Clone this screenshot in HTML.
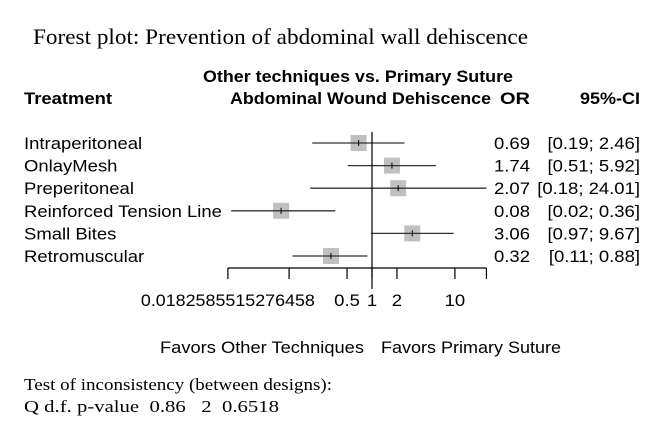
<!DOCTYPE html>
<html><head><meta charset="utf-8"><style>
body{margin:0;background:#fff;width:665px;height:435px;overflow:hidden}
svg text{font-family:"Liberation Sans",sans-serif;fill:#000}
</style></head><body>
<svg width="665" height="435">
<text x="33" y="44" textLength="495" lengthAdjust="spacingAndGlyphs" style="font-family:'Liberation Serif',serif;font-size:22px">Forest plot: Prevention of abdominal wall dehiscence</text>
<text x="203" y="82" textLength="310" lengthAdjust="spacingAndGlyphs" font-weight="bold" font-size="16.5">Other techniques vs. Primary Suture</text>
<text x="24" y="104" textLength="88" lengthAdjust="spacingAndGlyphs" font-weight="bold" font-size="16.5">Treatment</text>
<text x="230" y="104" textLength="261" lengthAdjust="spacingAndGlyphs" font-weight="bold" font-size="16.5">Abdominal Wound Dehiscence</text>
<text x="500" y="104" textLength="30" lengthAdjust="spacingAndGlyphs" font-weight="bold" font-size="16.5">OR</text>
<text x="580" y="104" textLength="60" lengthAdjust="spacingAndGlyphs" font-weight="bold" font-size="16.5">95%-CI</text>
<g id="plot"></g>
<text x="160" y="353" textLength="204" lengthAdjust="spacingAndGlyphs" font-size="16.5">Favors Other Techniques</text>
<text x="381" y="353" textLength="180" lengthAdjust="spacingAndGlyphs" font-size="16.5">Favors Primary Suture</text>
<text x="24" y="390" textLength="308" lengthAdjust="spacingAndGlyphs" style="font-family:'Liberation Serif',serif;font-size:17px">Test of inconsistency (between designs):</text>
<text x="24" y="412" textLength="255" lengthAdjust="spacingAndGlyphs" style="font-family:'Liberation Serif',serif;font-size:17px;white-space:pre">Q d.f. p-value  0.86   2  0.6518</text>
</svg>
<script>
const treatments=["Intraperitoneal","OnlayMesh","Preperitoneal","Reinforced Tension Line","Small Bites","Retromuscular"];
const orValues=[0.69,1.74,2.07,0.08,3.06,0.32];
const lowerCI=[0.19,0.51,0.18,0.02,0.97,0.11];
const upperCI=[2.46,5.92,24.01,0.36,9.67,0.88];
const ciLabels=["[0.19; 2.46]","[0.51; 5.92]","[0.18; 24.01]","[0.02; 0.36]","[0.97; 9.67]","[0.11; 0.88]"];
const tickValues=[0.0182585515276458,0.1,0.5,1,2,10,24.01];
const tickLabels=["0.0182585515276458","","0.5","1","2","10",""];
const NS="http://www.w3.org/2000/svg";
const g=document.getElementById('plot');
const x=v=>372+36*Math.log(v);
const y=i=>143+22.6*i;
const SC=1.12;
function mk(t,a){const e=document.createElementNS(NS,t);for(const k in a)e.setAttribute(k,a[k]);g.appendChild(e);return e;}
function txt(a,s){const e=mk('text',Object.assign({'font-size':16.5},a));e.textContent=s;return e;}
function stretch(e,len){const w=e.getComputedTextLength();const L=len||w*SC;e.setAttribute('textLength',L);e.setAttribute('lengthAdjust','spacingAndGlyphs');
 const anc=e.getAttribute('text-anchor');const x0=+e.getAttribute('x');
 if(anc==='end'){e.removeAttribute('text-anchor');e.setAttribute('x',x0-L);}
 else if(anc==='middle'){e.removeAttribute('text-anchor');e.setAttribute('x',x0-L/2);}}
treatments.forEach((t,i)=>{
 let e=txt({x:24,y:y(i)+6},t);stretch(e);
 
 
 e=mk('rect',{x:x(orValues[i])-8,y:y(i)-8,width:16,height:16,fill:'#c0c0c0'});
 
 
 e=mk('line',{x1:x(lowerCI[i]),x2:x(upperCI[i]),y1:y(i),y2:y(i),stroke:'#333','stroke-width':1.3});
 
 
 e=mk('line',{x1:x(orValues[i]),x2:x(orValues[i]),y1:y(i)-3,y2:y(i)+3,stroke:'#000','stroke-width':1});
 
 
 e=txt({x:530,y:y(i)+6,'text-anchor':'end'},orValues[i].toFixed(2));stretch(e);
 
 
 e=txt({x:640,y:y(i)+6,'text-anchor':'end'},ciLabels[i]);stretch(e);
 
 
});
let ref=mk('line',{x1:x(1),x2:x(1),y1:132,y2:289,stroke:'#000','stroke-width':1.2});


let ax=mk('line',{x1:x(tickValues[0]),x2:x(tickValues[tickValues.length-1]),y1:268,y2:268,stroke:'#000','stroke-width':1.2});


tickValues.forEach((v,i)=>{
 let t=mk('line',{x1:x(v),x2:x(v),y1:268,y2:279,stroke:'#000','stroke-width':1.2});
 
 
 if(tickLabels[i]){
  let l=txt({x:x(v),y:306,'text-anchor':'middle'},tickLabels[i]);
  if(i===0)stretch(l,174);else stretch(l);
  
  }
});
</script>
</body></html>
